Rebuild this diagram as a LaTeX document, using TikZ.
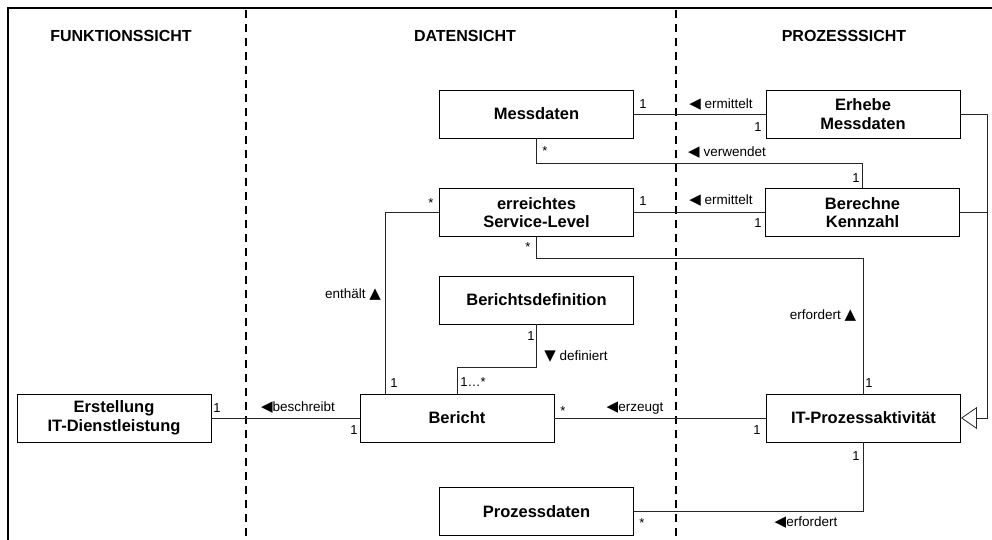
\documentclass[tikz,border=0pt]{standalone}
\usepackage{fontspec}
\setmainfont{Liberation Sans}
\newfontfamily\symfont{DejaVu Sans}
\usetikzlibrary{arrows.meta}

\tikzset{
  klasse/.style={draw, line width=0.9pt, minimum width=194pt, minimum height=48pt,
    inner sep=0pt, align=center, font=\bfseries\fontsize{16.5}{18.5}\selectfont},
  sicht/.style={font=\bfseries\fontsize{16}{18}\selectfont},
  trenner/.style={line width=1.8pt, dash pattern=on 8pt off 6pt},
  assoz/.style={line width=0.8pt, draw=black!85},
  mult/.style={inner sep=0pt, font=\fontsize{13}{14}\selectfont},
  rolle/.style={inner sep=0pt, font=\fontsize{13.5}{15}\selectfont},
}
\newcommand{\links}{{\symfont\fontsize{15}{15}\selectfont ◀}}
\newcommand{\hoch}{{\symfont\fontsize{15}{15}\selectfont ▲}}
\newcommand{\runter}{{\symfont\fontsize{15}{15}\selectfont ▼}}

\begin{document}
\begin{tikzpicture}[x=1pt, y=-1pt]
    \useasboundingbox (0,0) rectangle (992,540);
    \draw[line width=1.2pt] (8,540) -- (8,8) -- (992,8);
    \draw[trenner] (246,10) -- (246,540);
    \draw[trenner] (676,10) -- (676,540);

    \node[sicht] (funktion) at (121,36) {FUNKTIONSSICHT};
    \node[sicht] (daten) at (465,36) {DATENSICHT};
    \node[sicht] (prozess) at (844,36) {PROZESSSICHT};

    % Klassen
    \node[klasse] (messd) at (536.5,114) {Messdaten};
    \node[klasse] (erhebe) at (863,114) {Erhebe\\Messdaten};
    \node[klasse] (slevel) at (536.5,212.5) {erreichtes\\Service-Level};
    \node[klasse] (berechne) at (862.5,212.5) {Berechne\\Kennzahl};
    \node[klasse] (bdef) at (536.5,300) {Berichtsdefinition};
    \node[klasse] (erstellung) at (114,418) {Erstellung\\IT-Dienstleistung};
    \node[klasse] (bericht) at (457,418) {Bericht};
    \node[klasse] (itproz) at (863.5,418) {IT-Prozessaktivität};
    \node[klasse] (prozd) at (536.5,511.5) {Prozessdaten};

    % Assoziationen
    \draw[assoz] (messd.east) -- (erhebe.west);
    \draw[assoz] (messd.south) -- ++(0,25) -| (berechne.north);
    \draw[assoz] (slevel.east) -- (berechne.west);
    \draw[assoz] (slevel.south) -- ++(0,21) -| (itproz.north);
    \draw[assoz] (slevel.west) -| ([xshift=26pt]bericht.north west);
    \draw[assoz] (bdef.south) -- ++(0,43) -| (bericht.north);
    \draw[assoz] (erstellung.east) -- (bericht.west);
    \draw[assoz] (bericht.east) -- (itproz.west);
    \draw[assoz] (itproz.south) |- (prozd.east);

    % Generalisierung
    \coordinate (knick) at (987,418);
    \draw[assoz, -{Triangle[open, length=16pt, width=22pt]}] (erhebe.east) -| (knick) -- (itproz.east);
    \draw[assoz] (berechne.east) -- (berechne.east -| knick);

    % Multiplizitaeten
    \node[mult] (m1) at (643,104) {1};
    \node[mult] (m2) at (758,127) {1};
    \node[mult] (m3) at (545,151) {*};
    \node[mult] (m4) at (856,178) {1};
    \node[mult] (m5) at (643,201) {1};
    \node[mult] (m6) at (758,223) {1};
    \node[mult] (m7) at (431,203) {*};
    \node[mult] (m8) at (528,247) {*};
    \node[mult] (m9) at (531,336) {1};
    \node[mult] (m10) at (394,383) {1};
    \node[mult] (m11) at (473,382) {1\ldots*};
    \node[mult] (m12) at (869,383) {1};
    \node[mult] (m13) at (217,408) {1};
    \node[mult] (m14) at (354,430) {1};
    \node[mult] (m15) at (563,411) {*};
    \node[mult] (m16) at (757,430) {1};
    \node[mult] (m17) at (856,456) {1};
    \node[mult] (m18) at (642,523) {*};

    % Rollen
    \node[rolle] (r1) at (721,105) {\links\ ermittelt};
    \node[rolle] (r2) at (727,153) {\links\ verwendet};
    \node[rolle] (r3) at (721,201) {\links\ ermittelt};
    \node[rolle] (r4) at (353,295) {enthält \hoch};
    \node[rolle] (r5) at (576,357) {\runter\ definiert};
    \node[rolle] (r6) at (823,316) {erfordert \hoch};
    \node[rolle] (r7) at (298,408) {\links beschreibt};
    \node[rolle] (r8) at (635,408) {\links erzeugt};
    \node[rolle] (r9) at (806,523) {\links erfordert};
\end{tikzpicture}
\end{document}
